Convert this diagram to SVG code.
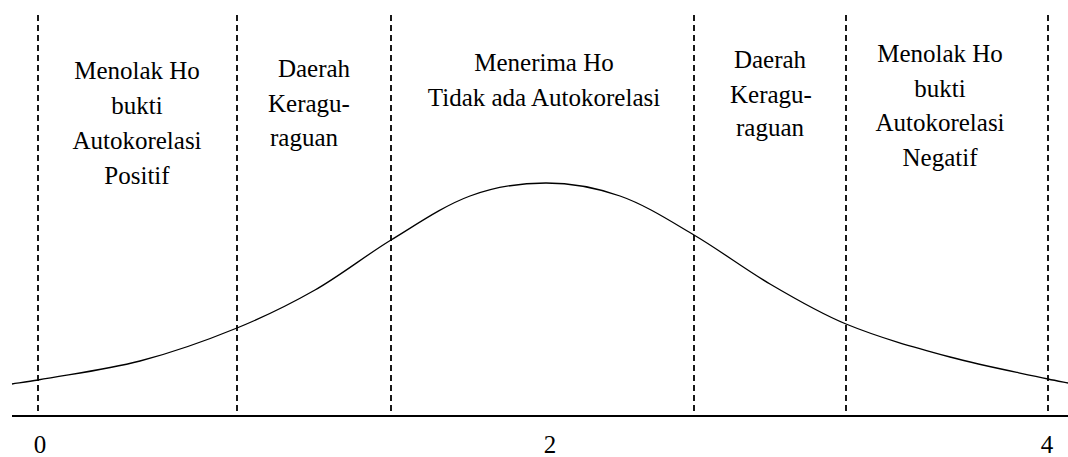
<svg xmlns="http://www.w3.org/2000/svg" width="1068" height="457" viewBox="0 0 1068 457">
<style>
.t{font-family:"Liberation Serif","Times New Roman",Times,"Nimbus Roman","Nimbus Roman No9 L","FreeSerif","Noto Serif","DejaVu Serif",Georgia,serif;font-size:25px;fill:#000;text-anchor:middle}
.d{stroke:#000;stroke-width:1.8;stroke-dasharray:6 4;fill:none}
.ax{stroke:#000;stroke-width:2;fill:none}
.cv{stroke:#000;stroke-width:1.3;fill:none}
</style>
<rect width="1068" height="457" fill="#fff"/>
<g id="connectors">
<line class="d" x1="38" y1="15" x2="38" y2="416"/>
<line class="d" x1="237" y1="15" x2="237" y2="416"/>
<line class="d" x1="391" y1="15" x2="391" y2="416"/>
<line class="d" x1="694" y1="15" x2="694" y2="416"/>
<line class="d" x1="846" y1="15" x2="846" y2="416"/>
<line class="d" x1="1048" y1="15" x2="1048" y2="416"/>
<line class="ax" x1="12" y1="416" x2="1068" y2="416"/>
<path class="cv" d="M12,384 C20.7,382.7 29.3,381.6 38,380 C72,373.9 106,369.8 140,361 C172.3,352.6 204.7,341.2 237,328 C263,317.3 289,304.8 315,290 C340.3,275.6 365.7,255.4 391,240 C417.3,224 443.7,205.7 470,196 C495.3,186.6 520.7,183 546,183 C570.7,183 595.3,187.4 620,196 C644.7,204.6 669.3,220.4 694,235 C719.3,249.9 744.7,269.1 770,284 C795.3,298.9 820.7,313.6 846,324 C880.7,338.2 915.3,347.6 950,357 C982.7,365.8 1015.3,371.8 1048,379 C1054.7,380.5 1061.3,381.7 1068,383"/>
</g>
<g id="region-left">
<text class="t" x="137" y="79">Menolak Ho</text>
<text class="t" x="137" y="114">bukti</text>
<text class="t" x="137" y="149">Autokorelasi</text>
<text class="t" x="137" y="184">Positif</text>
</g>
<g id="region-doubt-left">
<text class="t" x="314" y="77">Daerah</text>
<text class="t" x="309" y="112">Keragu-</text>
<text class="t" x="304" y="146">raguan</text>
</g>
<g id="region-center">
<text class="t" x="544" y="71">Menerima Ho</text>
<text class="t" x="544" y="106">Tidak ada Autokorelasi</text>
</g>
<g id="region-doubt-right">
<text class="t" x="770" y="68">Daerah</text>
<text class="t" x="771" y="103">Keragu-</text>
<text class="t" x="770" y="136">raguan</text>
</g>
<g id="region-right">
<text class="t" x="940" y="62">Menolak Ho</text>
<text class="t" x="940" y="97">bukti</text>
<text class="t" x="940" y="131">Autokorelasi</text>
<text class="t" x="940" y="166">Negatif</text>
</g>
<g id="axis-labels">
<text class="t" x="40" y="453">0</text>
<text class="t" x="550" y="453">2</text>
<text class="t" x="1047" y="453">4</text>
</g>
</svg>
